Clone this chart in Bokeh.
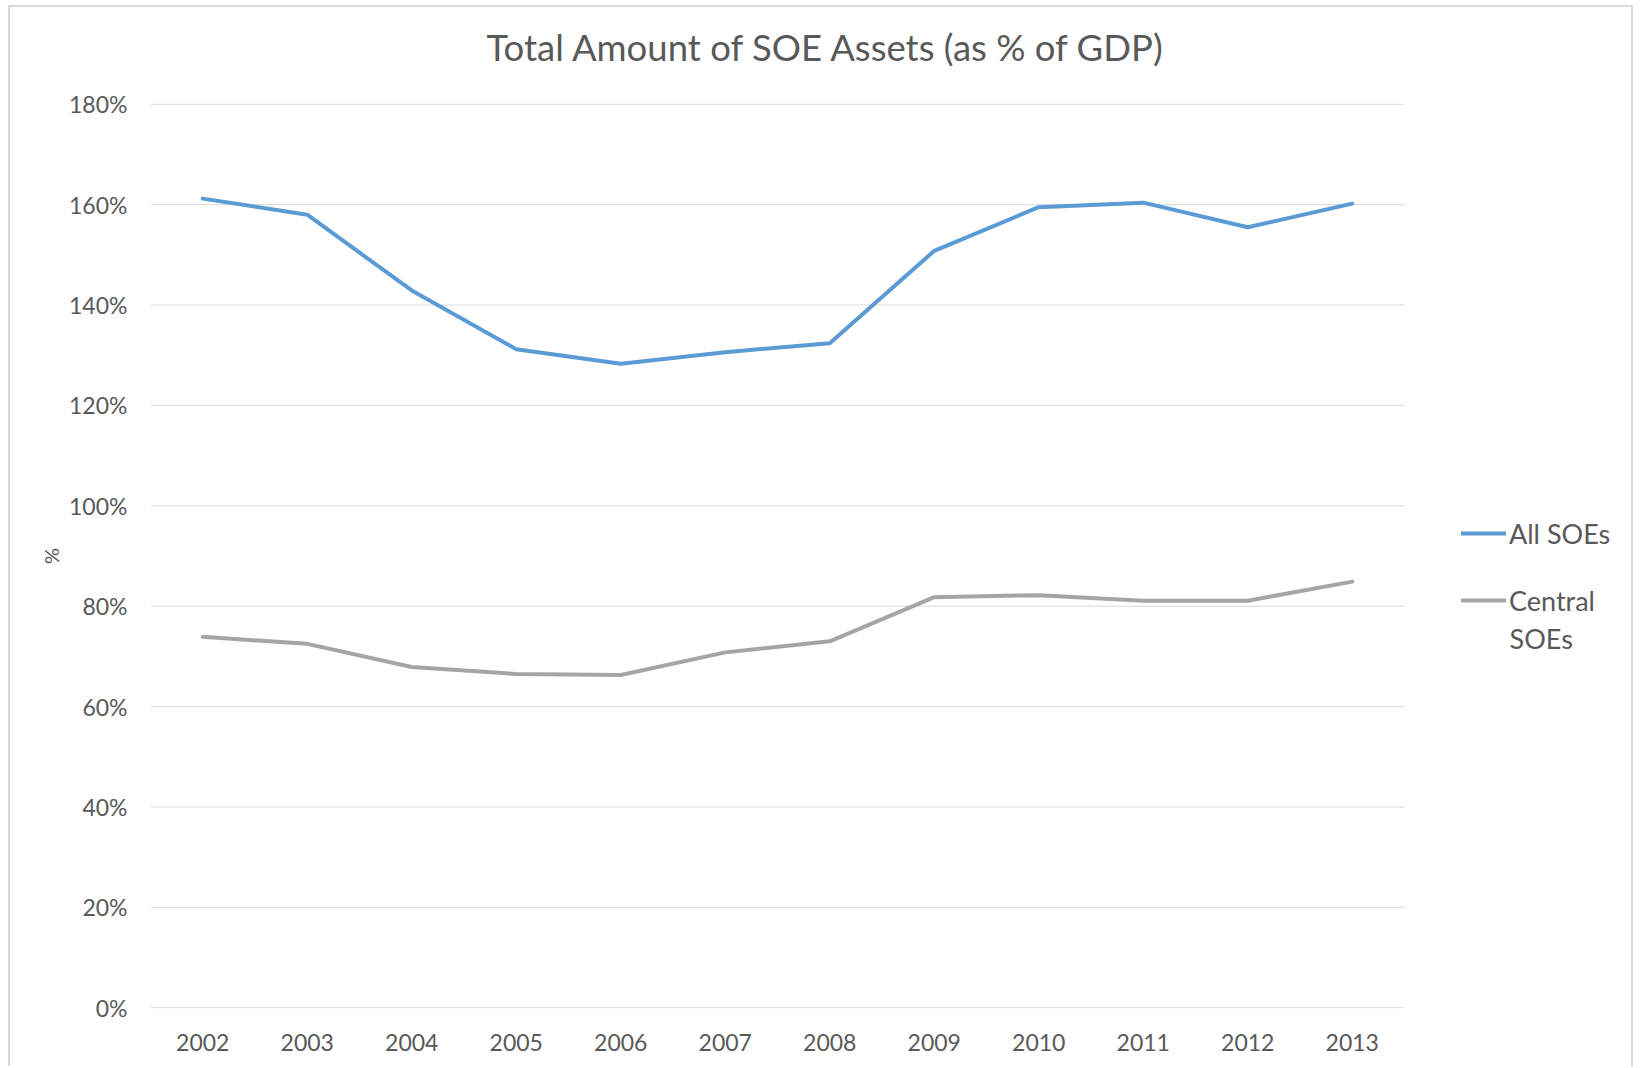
from bokeh.plotting import figure
from bokeh.models import Legend, LegendItem, PrintfTickFormatter, FixedTicker, Range1d, Label, Title
from bokeh.embed import file_html
from bokeh.resources import INLINE

years = ["2002", "2003", "2004", "2005", "2006", "2007", "2008", "2009", "2010", "2011", "2012", "2013"]
all_soes = [161.2, 158.0, 142.9, 131.2, 128.3, 130.6, 132.4, 150.8, 159.5, 160.4, 155.5, 160.2]
central_soes = [73.9, 72.5, 67.9, 66.5, 66.3, 70.8, 73.0, 81.8, 82.2, 81.1, 81.1, 84.9]
y_ticks = [0, 20, 40, 60, 80, 100, 120, 140, 160, 180]

FONT = "Lato"
TXT = "#595959"

# category slots: year i sits at the centre of slot [i, i+1]
xpos = [i + 0.5 for i in range(len(years))]
n_slots = len(years)
slot_px = 104.5            # width of one year slot in pixels
frame_w = 1485             # frame runs from the plot area to the right edge (legend lives there)

p = figure(x_range=Range1d(0, frame_w / slot_px), y_range=Range1d(-0.15, 180.15),
           width=1625, height=1061, output_backend="svg", toolbar_location=None,
           min_border_left=140, min_border_right=0, min_border_top=96, min_border_bottom=60,
           title="Total Amount of SOE Assets (as % of GDP)")
p.outline_line_color = None
p.styles = {"border-left": "2px solid #d9d9d9", "border-top": "2px solid #d9d9d9",
            "border-right": "2px solid #d9d9d9", "margin-left": "8px", "margin-top": "5px"}

p.title.text_font = FONT
p.title.text_font_size = "36.5px"
p.title.text_font_style = "normal"
p.title.text_color = TXT
p.title.align = "left"
p.title.offset = 336
p.title.standoff = 10

# empty spacer between the title and the plot area
p.add_layout(Title(text=" ", text_font_size="2px", standoff=26), "above")

# horizontal gridlines limited to the plot area
p.xgrid.grid_line_color = None
p.ygrid.grid_line_color = None
p.segment(x0=[0] * len(y_ticks), x1=[n_slots] * len(y_ticks), y0=y_ticks, y1=y_ticks,
          line_color="#D9D9D9", line_width=1)

r1 = p.line(xpos, all_soes, line_color="#5B9BD5", line_width=4, line_cap="round", line_join="round")
r2 = p.line(xpos, central_soes, line_color="#A5A5A5", line_width=4, line_cap="round", line_join="round")

p.yaxis.ticker = FixedTicker(ticks=y_ticks)
p.yaxis.formatter = PrintfTickFormatter(format="%d%%")
p.xaxis.ticker = FixedTicker(ticks=xpos)
p.xaxis.major_label_overrides = {x: y for x, y in zip(xpos, years)}

for ax in (p.xaxis, p.yaxis):
    ax.axis_line_color = None
    ax.major_tick_line_color = None
    ax.minor_tick_line_color = None
    ax.major_label_text_font = FONT
    ax.major_label_text_font_size = "23px"
    ax.major_label_text_color = TXT

p.xaxis.major_label_standoff = 19
p.yaxis.major_label_standoff = 17
p.yaxis.axis_label = "%"
p.yaxis.axis_label_text_font = FONT
p.yaxis.axis_label_text_font_style = "normal"
p.yaxis.axis_label_text_font_size = "20px"
p.yaxis.axis_label_text_color = TXT
p.yaxis.axis_label_standoff = 3

legend = Legend(items=[LegendItem(label="All SOEs", renderers=[r1]),
                       LegendItem(label="Central", renderers=[r2])],
                location=(1311, 391), padding=0, margin=0, spacing=33,
                glyph_width=45, glyph_height=34, label_height=34, label_standoff=3,
                border_line_color=None, background_fill_alpha=0,
                label_text_font=FONT, label_text_font_size="27px", label_text_color=TXT)
p.add_layout(legend)

soes2 = Label(x=1359, y=370, x_units="screen", y_units="screen", text="SOEs",
              text_align="left", text_baseline="middle",
              text_font=FONT, text_font_size="27px", text_color=TXT)
p.add_layout(soes2)

open("out.html", "w").write(file_html(p, INLINE))
